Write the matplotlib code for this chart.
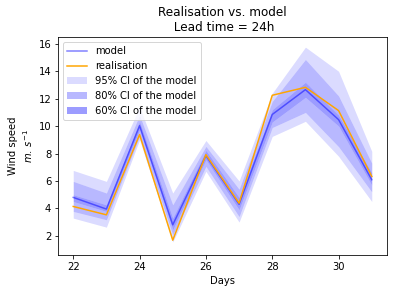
import numpy as np
import matplotlib
matplotlib.use("Agg")
import matplotlib.pyplot as plt

# Dias e valores
days = [22, 23, 24, 25, 26, 27, 28, 29, 30, 31]
model = [4.8, 3.95, 10.03, 2.8, 7.85, 4.3, 10.85, 12.66, 10.47, 6.09]
realisation = [4.14, 3.53, 9.38, 1.68, 7.92, 4.38, 12.25, 12.83, 11.13, 6.33]

ci95_low = [3.29, 2.63, 9.0, 1.55, 6.7, 3.0, 9.25, 10.35, 7.8, 4.5]
ci95_high = [6.77, 5.97, 11.4, 5.12, 8.95, 6.0, 12.4, 15.76, 14.0, 8.16]
ci80_low = [3.78, 3.17, 9.26, 2.07, 7.06, 3.4, 9.9, 11.0, 8.5, 5.2]
ci80_high = [5.97, 5.12, 10.8, 4.26, 8.52, 5.4, 11.8, 14.86, 12.2, 7.3]
ci60_low = [4.5, 3.78, 9.74, 2.44, 7.55, 3.9, 10.3, 12.1, 10.0, 5.7]
ci60_high = [5.0, 4.26, 10.35, 3.29, 8.23, 4.8, 11.2, 13.2, 10.8, 6.6]

fig, ax = plt.subplots(figsize=(399 / 72, 293 / 72), dpi=72)
fig.subplots_adjust(left=58.3 / 399, right=386.7 / 399, top=1 - 37 / 293, bottom=1 - 255 / 293)

ax.plot(days, model, color="blue", alpha=0.5, label="model")
ax.plot(days, realisation, color="orange", label="realisation")

# faixas sem sobreposição: cada intervalo pinta só a sua parte
bands = [
    (ci95_low, ci80_low, ci80_high, ci95_high, 0.14, "95% CI of the model"),
    (ci80_low, ci60_low, ci60_high, ci80_high, 0.28, "80% CI of the model"),
]
for lo, lo_in, hi_in, hi, a, lab in bands:
    ax.fill_between(days, lo, lo_in, color="blue", alpha=a, linewidth=0, label=lab)
    ax.fill_between(days, hi_in, hi, color="blue", alpha=a, linewidth=0)
ax.fill_between(days, ci60_low, ci60_high, color="blue", alpha=0.39, linewidth=0,
                label="60% CI of the model")

ax.set_yticks([2, 4, 6, 8, 10, 12, 14, 16])
ax.set_xticks([22, 24, 26, 28, 30])
ax.set_ylim(0.6, 16.5)
ax.set_title("Realisation vs. model\n Lead time = 24h")
ax.set_xlabel("Days")
ax.set_ylabel("Wind speed\n$m.\\,s^{-1}$")
ax.legend(loc="upper left")

plt.savefig("out.png", dpi=72)
plt.close()
